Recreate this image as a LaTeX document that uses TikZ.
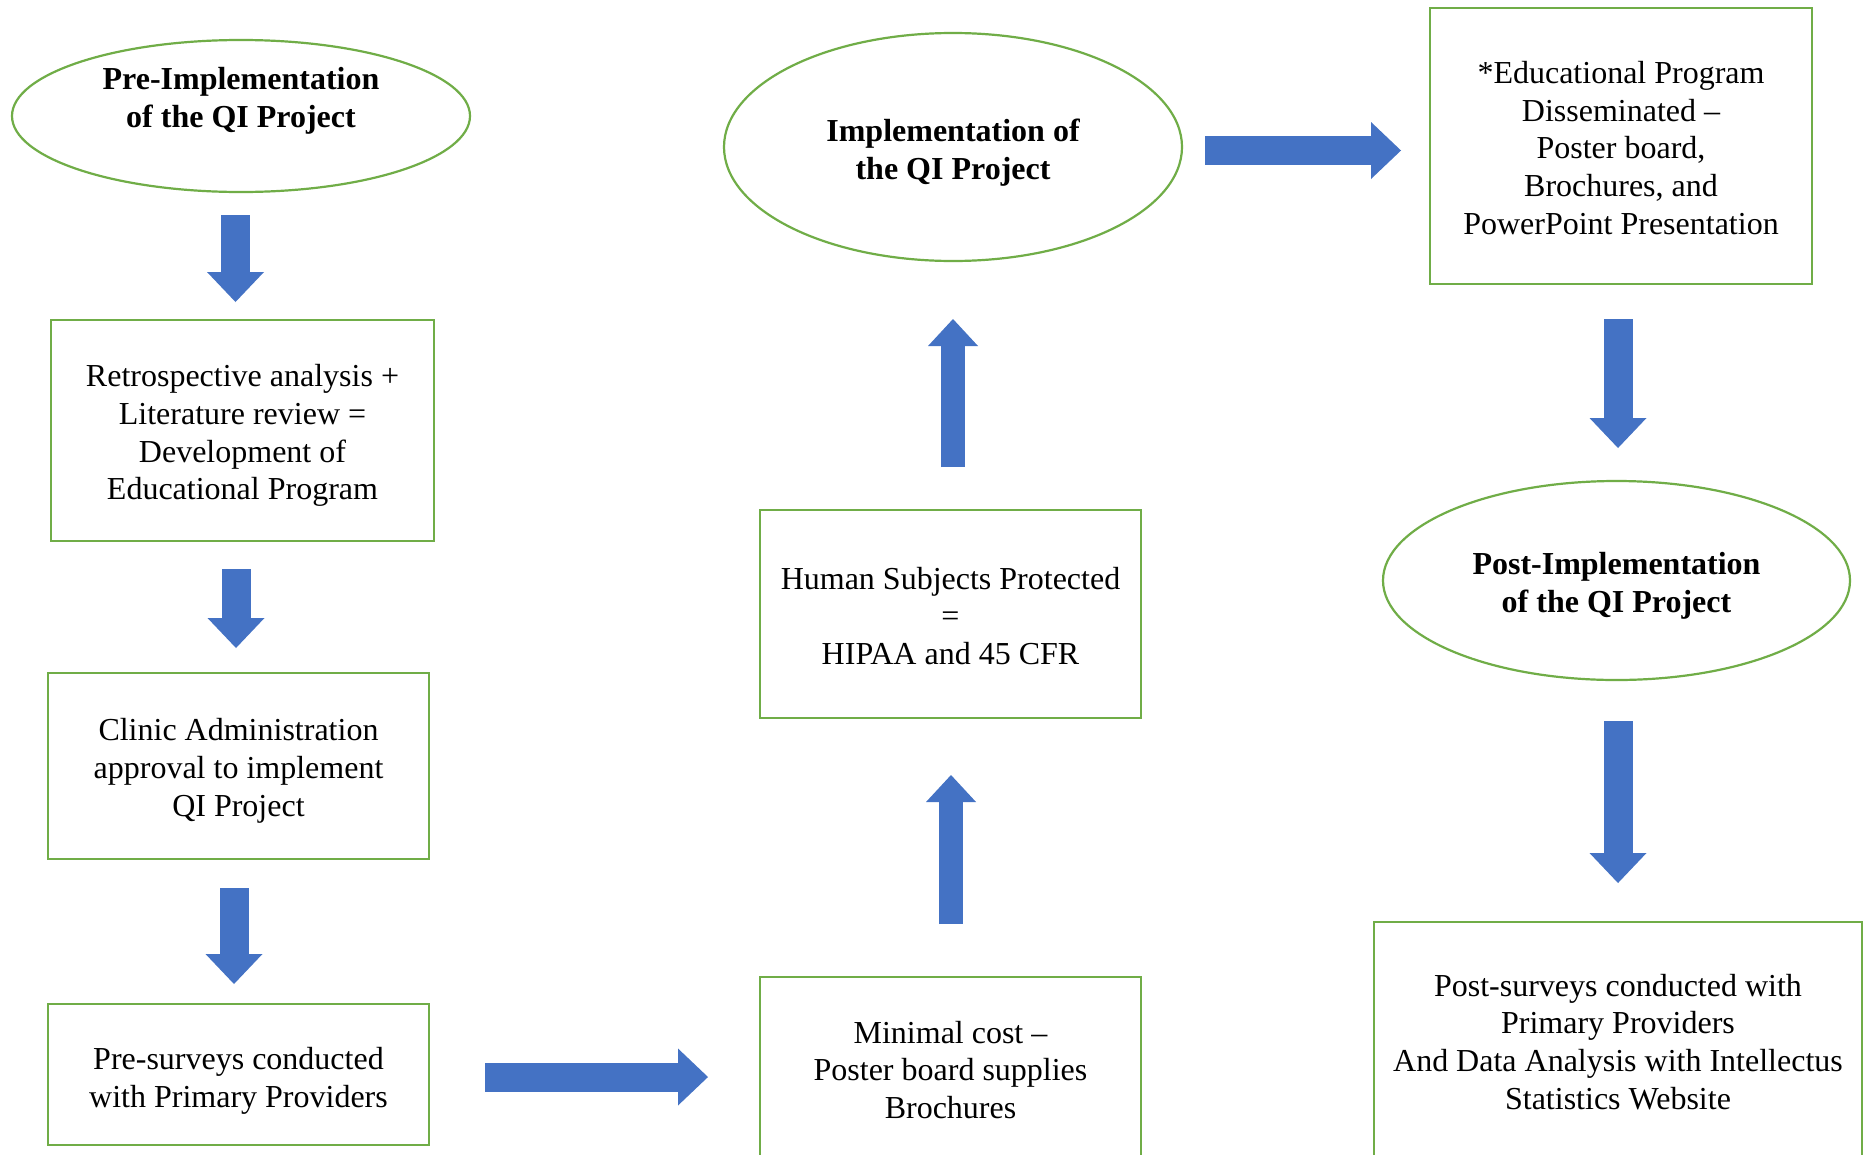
\documentclass[tikz,border=0pt]{standalone}
\usepackage{fontspec}
\setmainfont{Liberation Serif}
\usetikzlibrary{arrows.meta,shapes.geometric}
\definecolor{qgreen}{HTML}{70AD47}
\definecolor{qblue}{HTML}{4472C4}
\begin{document}
\begin{tikzpicture}[x=1pt,y=-1pt,
  box/.style={draw=qgreen,line width=2.2pt,rectangle,inner sep=0pt},
  ell/.style={draw=qgreen,line width=2.2pt,ellipse,inner sep=0pt},
  txt/.style={align=center,inner sep=0pt,font=\fontsize{32}{37.8}\selectfont},
  btxt/.style={align=center,inner sep=0pt,font=\fontsize{32}{38}\selectfont\bfseries},
  bigarrow/.style={qblue,line width=29pt,-{Triangle[width=57pt,length=30pt,line width=0pt]}},
  smallarrow/.style={qblue,line width=24pt,-{Triangle[width=50pt,length=27pt,line width=0pt]}}]
\useasboundingbox (0,0) rectangle (1870,1154);
\clip (0,0) rectangle (1870,1154);
\fill[white] (0,0) rectangle (1870,1154);

% left column
\node[ell,minimum width=458pt,minimum height=152pt] (e1) at (241,116) {};
\node[btxt] (e1t) at (241,101) {Pre-Implementation\\of the QI Project};
\node[box,minimum width=383pt,minimum height=221pt] (b1) at (242.5,430.5) {};
\node[txt] (b1t) at (242.5,435.5)
  {Retrospective analysis +\\Literature review =\\Development of\\Educational Program};
\node[box,minimum width=381pt,minimum height=186pt] (b2) at (238.5,766) {};
\node[txt] (b2t) at (238.5,771)
  {Clinic Administration\\approval to implement\\QI Project};
\node[box,minimum width=381pt,minimum height=141pt] (b3) at (238.5,1074.5) {};
\node[txt] (b3t) at (238.5,1080.5)
  {Pre-surveys conducted\\with Primary Providers};

% middle column
\node[box,minimum width=381pt,minimum height=186pt] (b4) at (950.5,1070) {};
\node[txt] (b4t) at (950.5,1070)
  {Minimal cost –\\Poster board supplies\\Brochures};
\node[box,minimum width=381pt,minimum height=208pt] (b5) at (950.5,614) {};
\node[txt] (b5t) at (950.5,616)
  {Human Subjects Protected\\=\\HIPAA and 45 CFR};
\node[ell,minimum width=458pt,minimum height=228pt] (e2) at (953,147) {};
\node[btxt] (e2t) at (953,153) {Implementation of\\the QI Project};

% right column
\node[box,minimum width=382pt,minimum height=276pt] (b6) at (1621,146) {};
\node[txt] (b6t) at (1621,148)
  {*Educational Program\\Disseminated –\\Poster board,\\Brochures, and\\PowerPoint Presentation};
\node[ell,minimum width=467pt,minimum height=199pt] (e3) at (1616.5,580.5) {};
\node[btxt] (e3t) at (1616.5,585.5) {Post-Implementation\\of the QI Project};
\node[box,minimum width=488pt,minimum height=240pt] (b7) at (1618,1042) {};
\node[txt] (b7t) at (1618,1042)
  {Post-surveys conducted with\\Primary Providers\\And Data Analysis with Intellectus\\Statistics Website};

% arrow end points
\coordinate (a1s) at (235.5,215);  \coordinate (a1e) at (235.5,302);
\coordinate (a2s) at (236,569);    \coordinate (a2e) at (236,648);
\coordinate (a3s) at (234,888);    \coordinate (a3e) at (234,984);
\coordinate (a4s) at (485,1077);   \coordinate (a4e) at (708,1077);
\coordinate (a5s) at (951,924);    \coordinate (a5e) at (951,775);
\coordinate (a6s) at (953,467);    \coordinate (a6e) at (953,319);
\coordinate (a7s) at (1205,150.5); \coordinate (a7e) at (1401,150.5);
\coordinate (a8s) at (1618,319);   \coordinate (a8e) at (1618,448);
\coordinate (a9s) at (1618,721);   \coordinate (a9e) at (1618,883);

\draw[bigarrow] (a1s) -- (a1e);
\draw[bigarrow] (a2s) -- (a2e);
\draw[bigarrow] (a3s) -- (a3e);
\draw[bigarrow] (a4s) -- (a4e);
\draw[smallarrow] (a5s) -- (a5e);
\draw[smallarrow] (a6s) -- (a6e);
\draw[bigarrow] (a7s) -- (a7e);
\draw[bigarrow] (a8s) -- (a8e);
\draw[bigarrow] (a9s) -- (a9e);
\end{tikzpicture}
\end{document}
